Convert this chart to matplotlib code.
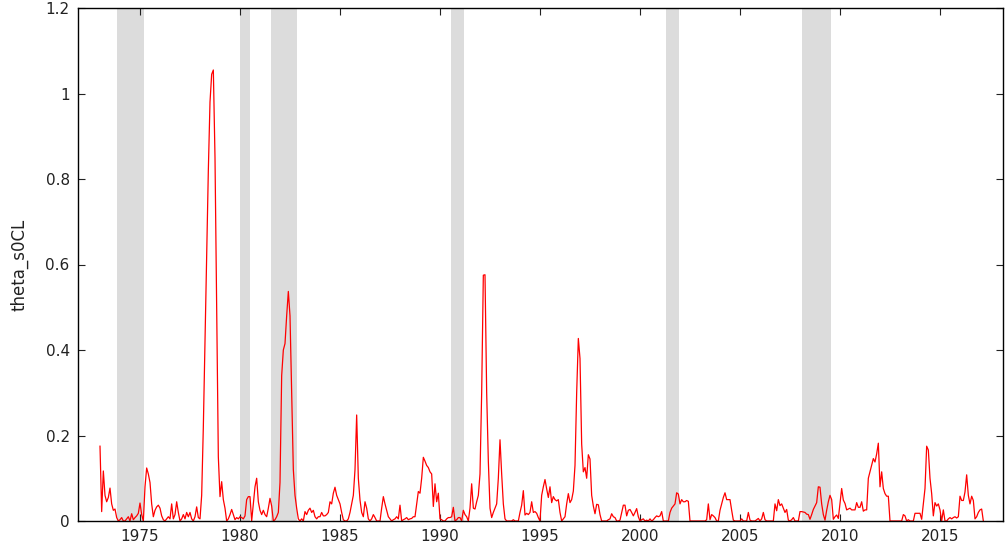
import numpy as np
import matplotlib
matplotlib.use("Agg")
import matplotlib.pyplot as plt

# Monthly values, starting January 1973
theta_1973_1979 = [
    .175, .022, .117, .06, .045, .055, .077, .04, .025, .028, .008, .0,
    .003, .008, .0, .0, .005, .01, .0, .017, .003, .008, .012, .018,
    .042, .015, .0, .08, .124, .11, .09, .04, .01, .025, .033, .037,
    .03, .012, .003, .0, .005, .01, .005, .04, .005, .015, .045, .02,
    .0, .005, .015, .005, .02, .01, .02, .005, .0, .01, .033, .008,
    .005, .06, .22, .42, .61, .82, .98, 1.045, 1.055, .85, .5, .15,
    .057, .092, .05, .03, .0, .005, .015, .027, .015, .003, .008, .005,
]
theta_1980s = [
    .01, .008, .005, .012, .05, .057, .057, .0, .04, .08, .1, .045,
    .025, .015, .025, .015, .01, .03, .053, .035, .0, .003, .01, .02,
    .09, .34, .40, .415, .48, .537, .48, .3, .12, .06, .03, .005,
    .0, .005, .0, .022, .015, .025, .03, .02, .025, .01, .005, .01,
    .01, .02, .012, .012, .015, .02, .045, .04, .065, .079, .06, .05,
    .04, .02, .003, .0, .0, .005, .02, .04, .06, .12, .248, .1,
    .049, .02, .01, .045, .03, .005, .0, .005, .015, .008, .0, .0,
    .0, .03, .057, .04, .025, .01, .005, .0, .003, .005, .01, .005,
    .037, .0, .003, .005, .008, .003, .005, .006, .01, .01, .04, .069,
    .065, .1, .149, .14, .13, .125, .115, .11, .034, .087, .045, .065,
]
theta_1990s = [
    .005, .003, .0, .0, .005, .008, .008, .01, .032, .0, .003, .008,
    .008, .0, .025, .015, .01, .0, .03, .087, .03, .028, .045, .06,
    .11, .3, .575, .576, .3, .14, .03, .008, .02, .03, .04, .1,
    .19, .11, .04, .005, .0, .0, .0, .0, .003, .0, .0, .0,
    .02, .037, .071, .014, .018, .015, .02, .045, .02, .022, .018, .008,
    .0, .06, .08, .097, .075, .055, .08, .043, .057, .05, .047, .05,
    .02, .0, .005, .01, .04, .064, .043, .05, .07, .13, .3, .427,
    .38, .18, .115, .125, .1, .155, .145, .06, .035, .017, .039, .038,
    .015, .0, .0, .0, .0, .003, .005, .017, .01, .008, .0, .0,
    .002, .02, .037, .037, .012, .025, .027, .02, .012, .02, .029, .01,
]
theta_2000s = [
    .0, .003, .005, .0, .002, .0, .005, .0, .003, .008, .012, .01,
    .012, .022, .0, .0, .0, .0, .02, .03, .035, .04, .066, .063,
    .04, .05, .045, .045, .048, .046, .0, .0, .0, .0, .0, .0,
    .0, .0, .0, .0, .003, .04, .003, .015, .012, .008, .0, .0,
    .025, .04, .055, .066, .05, .05, .05, .025, .002, .0, .0, .0,
    .0, .005, .0, .0, .0, .02, .002, .0, .0, .0, .003, .006,
    .0, .005, .02, .003, .0, .0, .0, .0, .0, .04, .024, .05,
    .036, .04, .03, .02, .027, .002, .0, .003, .008, .0, .0, .0,
    .022, .022, .021, .02, .016, .015, .004, .015, .027, .035, .043, .08,
    .079, .04, .015, .002, .025, .045, .06, .05, .004, .01, .014, .006,
]
theta_2010s = [
    .04, .076, .049, .041, .026, .028, .03, .026, .026, .026, .043, .032,
    .032, .045, .023, .026, .026, .1, .115, .13, .146, .138, .157, .182,
    .08, .115, .076, .064, .058, .058, .0, .0, .0, .0, .0, .0,
    .0, .0, .015, .012, .0, .003, .0, .0, .0, .018, .018, .018,
    .018, .004, .04, .076, .175, .166, .1, .064, .012, .043, .035, .04,
    .026, .0, .026, .0, .0, .005, .008, .005, .008, .01, .007, .01,
    .058, .048, .048, .068, .108, .06, .04, .058, .048, .005, .01, .02,
    .026, .028, .0,
]
start_year = 1973

# Recession periods (decimal years)
rec_start = [1973.83, 1980.0, 1981.53, 1990.57, 2001.3, 2008.08]
rec_end = [1975.22, 1980.5, 1982.83, 1991.2, 2001.93, 2009.55]

x_ticks = [1975, 1980, 1985, 1990, 1995, 2000, 2005, 2010, 2015]
y_ticks = [0, 0.2, 0.4, 0.6, 0.8, 1.0, 1.2]
y_ticklabels = ["0", "0.2", "0.4", "0.6", "0.8", "1", "1.2"]
y_label = "theta_s0CL"

values = np.array(theta_1973_1979 + theta_1980s + theta_1990s + theta_2000s + theta_2010s)
t = start_year + np.arange(len(values)) / 12.0

fig = plt.figure(figsize=(10.05, 5.46), dpi=100)
ax = fig.add_axes([78 / 1005, 1 - 521 / 546, (1003 - 78) / 1005, (521 - 8) / 546])

for s, e in zip(rec_start, rec_end):
    ax.axvspan(s, e, color="#dcdcdc", lw=0, zorder=0)

ax.plot(t, values, color="red", lw=0.9, zorder=2)

ax.set_xlim(1971.9, 2018.15)
ax.set_ylim(0, 1.2)
ax.set_xticks(x_ticks)
ax.set_xticklabels([str(v) for v in x_ticks])
ax.set_yticks(y_ticks)
ax.set_yticklabels(y_ticklabels)
ax.tick_params(direction="in", length=5, width=0.8, top=True, right=True,
               labelsize=11, colors="#222222", pad=6)
ax.tick_params(axis="x", pad=6)
for sp in ax.spines.values():
    sp.set_linewidth(1.0)
    sp.set_color("black")
ax.set_ylabel(y_label, fontsize=12, color="#222222", labelpad=12)

fig.savefig("out.png", dpi=100)
